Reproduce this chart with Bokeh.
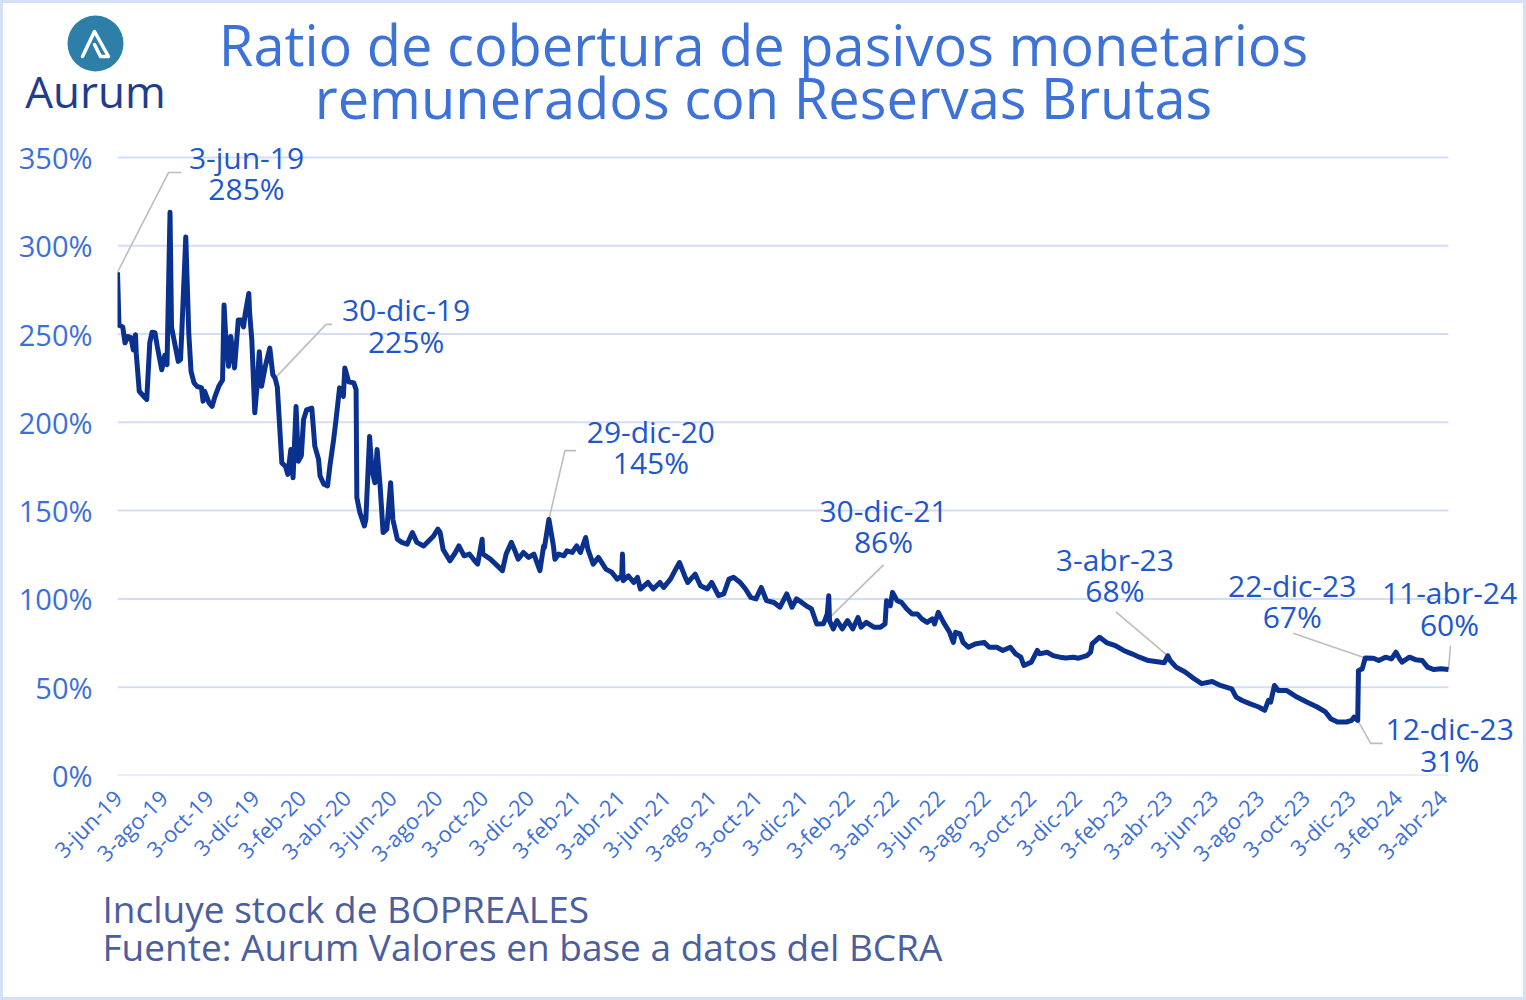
import math
import pandas as pd
from bokeh.plotting import figure
from bokeh.layouts import column
from bokeh.models import Range1d, FixedTicker, Label, ColumnDataSource
from bokeh.embed import file_html
from bokeh.resources import INLINE

# ---------------- data ----------------
dates = [
    "2019-06-03", "2019-06-05", "2019-06-10", "2019-06-13", "2019-06-17", "2019-06-21", "2019-06-24",
    "2019-06-27", "2019-06-28", "2019-07-02", "2019-07-08", "2019-07-12", "2019-07-16", "2019-07-19",
    "2019-07-23", "2019-07-26", "2019-08-01", "2019-08-05", "2019-08-08", "2019-08-12", "2019-08-14",
    "2019-08-19", "2019-08-23", "2019-08-26", "2019-08-28", "2019-09-02", "2019-09-06", "2019-09-09",
    "2019-09-13", "2019-09-17", "2019-09-23", "2019-09-25", "2019-09-27", "2019-10-03", "2019-10-07",
    "2019-10-11", "2019-10-16", "2019-10-21", "2019-10-23", "2019-10-25", "2019-10-29", "2019-11-01",
    "2019-11-06", "2019-11-11", "2019-11-15", "2019-11-18", "2019-11-20", "2019-11-25", "2019-11-26",
    "2019-11-29", "2019-12-03", "2019-12-06", "2019-12-09", "2019-12-12", "2019-12-17", "2019-12-23",
    "2019-12-27", "2019-12-30", "2020-01-02", "2020-01-08", "2020-01-13", "2020-01-16", "2020-01-20",
    "2020-01-23", "2020-01-27", "2020-01-30", "2020-02-03", "2020-02-06", "2020-02-10", "2020-02-17",
    "2020-02-21", "2020-02-26", "2020-02-28", "2020-03-04", "2020-03-09", "2020-03-12", "2020-03-17",
    "2020-03-20", "2020-03-25", "2020-03-30", "2020-04-01", "2020-04-06", "2020-04-13", "2020-04-16",
    "2020-04-17", "2020-04-21", "2020-04-27", "2020-04-29", "2020-05-04", "2020-05-07", "2020-05-11",
    "2020-05-14", "2020-05-18", "2020-05-22", "2020-05-27", "2020-06-01", "2020-06-04", "2020-06-10",
    "2020-06-16", "2020-06-23", "2020-06-30", "2020-07-06", "2020-07-15", "2020-07-28", "2020-08-03",
    "2020-08-06", "2020-08-10", "2020-08-19", "2020-08-26", "2020-08-31", "2020-09-07", "2020-09-14",
    "2020-09-21", "2020-09-25", "2020-10-01", "2020-10-02", "2020-10-12", "2020-10-19", "2020-10-28",
    "2020-11-02", "2020-11-09", "2020-11-13", "2020-11-18", "2020-11-25", "2020-12-02", "2020-12-09",
    "2020-12-17", "2020-12-22", "2020-12-23", "2020-12-29", "2021-01-04", "2021-01-06", "2021-01-11",
    "2021-01-18", "2021-01-22", "2021-01-29", "2021-02-04", "2021-02-09", "2021-02-16", "2021-02-19",
    "2021-02-26", "2021-03-05", "2021-03-15", "2021-03-23", "2021-03-30", "2021-04-05", "2021-04-06",
    "2021-04-07", "2021-04-14", "2021-04-21", "2021-04-26", "2021-04-30", "2021-05-10", "2021-05-17",
    "2021-05-26", "2021-05-31", "2021-06-09", "2021-06-15", "2021-06-21", "2021-06-28", "2021-07-02",
    "2021-07-12", "2021-07-19", "2021-07-28", "2021-08-03", "2021-08-12", "2021-08-19", "2021-08-26",
    "2021-09-01", "2021-09-10", "2021-09-17", "2021-09-24", "2021-10-01", "2021-10-08", "2021-10-15",
    "2021-10-25", "2021-11-02", "2021-11-11", "2021-11-18", "2021-11-24", "2021-12-01", "2021-12-07",
    "2021-12-14", "2021-12-21", "2021-12-30", "2022-01-04", "2022-01-06", "2022-01-07", "2022-01-12",
    "2022-01-17", "2022-01-24", "2022-01-31", "2022-02-07", "2022-02-14", "2022-02-18", "2022-02-25",
    "2022-03-07", "2022-03-16", "2022-03-22", "2022-03-24", "2022-03-29", "2022-04-01", "2022-04-07",
    "2022-04-13", "2022-04-20", "2022-04-27", "2022-05-04", "2022-05-10", "2022-05-17", "2022-05-24",
    "2022-05-27", "2022-06-01", "2022-06-08", "2022-06-16", "2022-06-21", "2022-06-24", "2022-06-30",
    "2022-07-04", "2022-07-11", "2022-07-20", "2022-08-01", "2022-08-08", "2022-08-18", "2022-08-26",
    "2022-09-05", "2022-09-12", "2022-09-19", "2022-09-23", "2022-10-03", "2022-10-11", "2022-10-14",
    "2022-10-24", "2022-11-01", "2022-11-10", "2022-11-18", "2022-11-28", "2022-12-05", "2022-12-16",
    "2022-12-21", "2022-12-23", "2023-01-02", "2023-01-12", "2023-01-23", "2023-02-03", "2023-02-14",
    "2023-02-24", "2023-03-08", "2023-03-20", "2023-03-29", "2023-04-03", "2023-04-06", "2023-04-14",
    "2023-04-26", "2023-05-08", "2023-05-18", "2023-06-01", "2023-06-12", "2023-06-27", "2023-07-03",
    "2023-07-11", "2023-07-21", "2023-08-02", "2023-08-10", "2023-08-15", "2023-08-18", "2023-08-23",
    "2023-08-28", "2023-09-08", "2023-09-22", "2023-10-05", "2023-10-19", "2023-10-30", "2023-11-06",
    "2023-11-15", "2023-11-27", "2023-12-04", "2023-12-07", "2023-12-12", "2023-12-13", "2023-12-18",
    "2023-12-22", "2024-01-02", "2024-01-09", "2024-01-18", "2024-01-26", "2024-02-01", "2024-02-06",
    "2024-02-09", "2024-02-19", "2024-02-27", "2024-03-07", "2024-03-14", "2024-03-22", "2024-04-01",
    "2024-04-11",
]
ratio = [
    285, 255, 254, 245, 248.6, 248, 241,
    249.6, 239, 217.6, 214.7, 213, 245, 251,
    250.7, 243, 229.8, 238, 232.6, 319, 254,
    243, 234.5, 235.5, 254, 305, 250.7, 228.9,
    222.3, 220.4, 219.5, 212, 217.6, 211, 209,
    214.7, 220.4, 224, 266.5, 250.5, 231.7, 248.6,
    230.8, 258, 258, 254, 261, 273, 262.7,
    246.8, 205.4, 220.4, 240, 220.4, 231.7, 242,
    227, 225, 220, 177, 175, 170.5, 184.6,
    168.6, 209, 178, 181, 201.6, 207, 208,
    186.5, 179, 169.6, 164.9, 164, 175, 190,
    200.6, 219.5, 214.7, 230.8, 223, 222.3, 218.5,
    157.4, 148.9, 141.3, 145, 192, 173.3, 165.8,
    184.6, 164, 137.6, 139.5, 165.8, 145, 133.8,
    132, 131, 137.6, 132, 130, 135.5, 139.5,
    137.6, 128, 121.6, 126, 130, 124.4, 125.4,
    121.6, 119.7, 133.8, 125.4, 122.5, 119.7, 116,
    125.4, 132, 128, 122.5, 126.3, 123.5, 125.4,
    116, 130, 129, 145, 130, 122.5, 125.4,
    124.4, 127.2, 126.3, 130, 126.3, 134.8, 128,
    119.7, 123.5, 116.9, 115, 111.2, 113, 125.4,
    110.3, 113, 109.3, 112.2, 105.6, 109.3, 105.6,
    109.3, 106.5, 111.2, 116, 120.6, 113, 109.3,
    114, 107.5, 105.6, 109.3, 101.8, 102.8, 111.2,
    112.2, 109.3, 105.6, 100.9, 100, 106.5, 99,
    98, 95.3, 102.8, 95.3, 100, 98, 96.1,
    94.3, 85.8, 86, 91.5, 101.8, 87.7, 83,
    87.7, 83, 87.7, 83, 89.5, 84, 86.7,
    84, 84, 85.8, 99, 96.1, 103.7, 99,
    98, 94.3, 91.5, 91.5, 88.7, 86.7, 88.7,
    85.8, 92.4, 86.7, 81.1, 75.4, 81.1, 80.2,
    75.4, 72.6, 74.5, 75.4, 72.6, 72.6, 70.8,
    72.6, 68.9, 67, 62.3, 64.2, 70.8, 68.9,
    69.8, 67.9, 67, 66.5, 67, 66.4, 67.9,
    69.8, 74.5, 78.3, 75.1, 73.6, 70.8, 68.9,
    67, 65.1, 64.4, 63.8, 67.8, 65.1, 61.4,
    58.6, 54.8, 52, 53.2, 51, 49.1, 44.4,
    42.5, 40.7, 38.8, 36.9, 42.5, 41.6, 51,
    48.2, 48.2, 44.4, 41.6, 38.8, 36, 32.2,
    30.3, 30.3, 31.2, 33.1, 31.2, 59.5, 60.4,
    66.5, 66.4, 65.1, 67, 66, 69.8, 66,
    64.2, 67, 65.6, 65.1, 61.4, 60, 60.4,
    60,
]

tick_dates = [
    "2019-06-03", "2019-08-03", "2019-10-03", "2019-12-03",
    "2020-02-03", "2020-04-03", "2020-06-03", "2020-08-03", "2020-10-03", "2020-12-03",
    "2021-02-03", "2021-04-03", "2021-06-03", "2021-08-03", "2021-10-03", "2021-12-03",
    "2022-02-03", "2022-04-03", "2022-06-03", "2022-08-03", "2022-10-03", "2022-12-03",
    "2023-02-03", "2023-04-03", "2023-06-03", "2023-08-03", "2023-10-03", "2023-12-03",
    "2024-02-03", "2024-04-03",
]
tick_labels = [
    "3-jun-19", "3-ago-19", "3-oct-19", "3-dic-19",
    "3-feb-20", "3-abr-20", "3-jun-20", "3-ago-20", "3-oct-20", "3-dic-20",
    "3-feb-21", "3-abr-21", "3-jun-21", "3-ago-21", "3-oct-21", "3-dic-21",
    "3-feb-22", "3-abr-22", "3-jun-22", "3-ago-22", "3-oct-22", "3-dic-22",
    "3-feb-23", "3-abr-23", "3-jun-23", "3-ago-23", "3-oct-23", "3-dic-23",
    "3-feb-24", "3-abr-24",
]
y_ticks = [0, 50, 100, 150, 200, 250, 300, 350]

annot_dates = ["2019-06-03", "2019-12-30", "2020-12-29", "2021-12-30",
               "2023-04-03", "2023-12-22", "2024-04-11", "2023-12-12"]
annot_date_text = ["3-jun-19", "30-dic-19", "29-dic-20", "30-dic-21",
                   "3-abr-23", "22-dic-23", "11-abr-24", "12-dic-23"]
annot_pct = [285, 225, 145, 86, 68, 67, 60, 31]

title_lines = ["Ratio de cobertura de pasivos monetarios", "remunerados con Reservas Brutas"]
notes = ["Incluye stock de BOPREALES", "Fuente: Aurum Valores en base a datos del BCRA"]

# ---------------- layout / styling ----------------
B = 3                      # outer border width (css)
W = 1526 - 2 * B           # inner width
TOP_MAIN = 136             # canvas y where the main chart begins
HH = TOP_MAIN - B          # header height
HM = 880 - TOP_MAIN        # main height
HF = 1000 - B - 880        # footer height
FONT = "Open Sans"
BLUE = "#3b70d8"
ABLUE = "#2157cc"
LINE = "#0b318f"

# main frame geometry (local pixels of the main figure)
FL = 117 - B               # frame left
FR = 1520 - B              # frame right
DATA_R = 1448 - B          # where the last date falls
FB = 777 - TOP_MAIN        # frame bottom (frame top = 0)
PX_Y = 620.0 / 350.0       # pixels per %


def ms(d):
    return pd.Timestamp(d).value / 1e6


x0, x1 = ms(dates[0]), ms(dates[-1])
kx = (x1 - x0) / (DATA_R - FL)      # ms per pixel
ky = 1.0 / PX_Y                     # % per pixel
x_end = x0 + (FR - FL) * kx
y_end = FB / PX_Y


def blank(h):
    f = figure(width=W, height=h, x_range=Range1d(0, W), y_range=Range1d(h, 0),
               output_backend="svg", toolbar_location=None, x_axis_location=None,
               y_axis_location=None, min_border=0, frame_align=False)
    f.grid.visible = False
    f.outline_line_color = None
    f.background_fill_color = "white"
    f.border_fill_color = "white"
    return f


# ---- header: logo + title ----
hdr = blank(HH)
hdr.circle(x=[95 - B], y=[43 - B], radius=28, fill_color="#2d7fa8", line_color=None)
hdr.line([82 - B, 94 - B, 108 - B, 100 - B, 94 - B], [56 - B, 31 - B, 56 - B, 56 - B, 44 - B],
         line_color="white", line_width=3.5, line_join="round", line_cap="round")
hdr.add_layout(Label(x=95 - B, y=90 - B, text="Aurum", text_align="center",
                     text_baseline="middle", text_font=FONT, text_font_size="44px",
                     text_color="#1f3d8c"))
for txt, Y in zip(title_lines, (43, 96)):
    hdr.add_layout(Label(x=763 - B, y=Y - B, text=txt, text_align="center",
                         text_baseline="middle", text_font=FONT, text_font_size="56px",
                         text_color="#3d72d9"))

# ---- main chart ----
p = figure(width=W, height=HM, x_axis_type="datetime", output_backend="svg",
           toolbar_location=None, x_range=Range1d(x0, x_end), y_range=Range1d(0, y_end),
           min_border_left=FL, min_border_right=W - FR, min_border_top=0,
           min_border_bottom=HM - FB, frame_align=False)
p.outline_line_color = None
p.background_fill_color = "white"
p.border_fill_color = "white"
p.xgrid.visible = False
p.ygrid.visible = False

p.yaxis.ticker = FixedTicker(ticks=y_ticks)
p.yaxis.major_label_overrides = {v: f"{v}%" for v in y_ticks}
p.yaxis.axis_line_color = None
p.yaxis.major_tick_line_color = None
p.yaxis.minor_tick_line_color = None
p.yaxis.major_label_standoff = 19
p.yaxis.major_label_text_font = FONT
p.yaxis.major_label_text_font_size = "29px"
p.yaxis.major_label_text_color = BLUE

tick_ms = [ms(d) for d in tick_dates]
p.xaxis.ticker = FixedTicker(ticks=tick_ms)
p.xaxis.major_label_overrides = {t: l for t, l in zip(tick_ms, tick_labels)}
p.xaxis.major_label_orientation = math.pi / 4
p.xaxis.axis_line_color = None
p.xaxis.major_tick_line_color = None
p.xaxis.minor_tick_line_color = None
p.xaxis.major_label_standoff = 12
p.xaxis.major_label_text_font = FONT
p.xaxis.major_label_text_font_size = "22px"
p.xaxis.major_label_text_color = BLUE

# horizontal gridlines at the y ticks, spanning the dated period only
p.segment(x0=[x0] * len(y_ticks), x1=[x1] * len(y_ticks), y0=y_ticks, y1=y_ticks,
          line_color="#d3def5", line_width=2)

# leader lines (offsets in pixels from the data point; +y is up)
series = dict(zip(dates, ratio))
leaders = [
    [(51, 100), (64, 100)],
    [(51, 54), (57, 54)],
    [(16, 69), (27, 69)],
    [(60, 59)],
    [(-52, 44)],
    [(-72, 25)],
    [(2, 24)],
    [(13, -23), (25, -23)],
]
text_pos = [(129, 115, 84), (131, 69, 37), (102, 88, 57), (60, 113, 82),
            (-53, 96, 65), (-73, 73, 42), (1, 77, 45), (92, -8, -40)]

xs, ys = [], []
for d, legs in zip(annot_dates, leaders):
    bx, by = ms(d), series[d]
    xs.append([bx] + [bx + dx * kx for dx, dy in legs])
    ys.append([by] + [by + dy * ky for dx, dy in legs])
p.multi_line(xs, ys, line_color="#bdbdbd", line_width=1.6)

src = ColumnDataSource(dict(date=[ms(d) for d in dates], ratio=ratio))
p.line("date", "ratio", source=src, line_color=LINE, line_width=5, line_join="round")

for d, dt, pct, (ox, oy1, oy2) in zip(annot_dates, annot_date_text, annot_pct, text_pos):
    bx, by = ms(d), series[d]
    for txt, oy in ((dt, oy1), (f"{pct}%", oy2)):
        p.add_layout(Label(x=bx, y=by, x_offset=ox, y_offset=oy, text=txt,
                           text_align="center", text_baseline="middle",
                           text_font=FONT, text_font_size="30px", text_color=ABLUE))

# ---- footer: notes ----
ftr = blank(HF)
for txt, Y in zip(notes, (908, 946)):
    ftr.add_layout(Label(x=102 - B, y=Y - 880, text=txt, text_align="left",
                         text_baseline="middle", text_font=FONT, text_font_size="37px",
                         text_color="#4b5e9e"))

layout = column(hdr, p, ftr, spacing=0,
                styles={"border": f"{B}px solid #d4e0f4", "background-color": "white"})

open("out.html", "w").write(file_html(layout, INLINE))
